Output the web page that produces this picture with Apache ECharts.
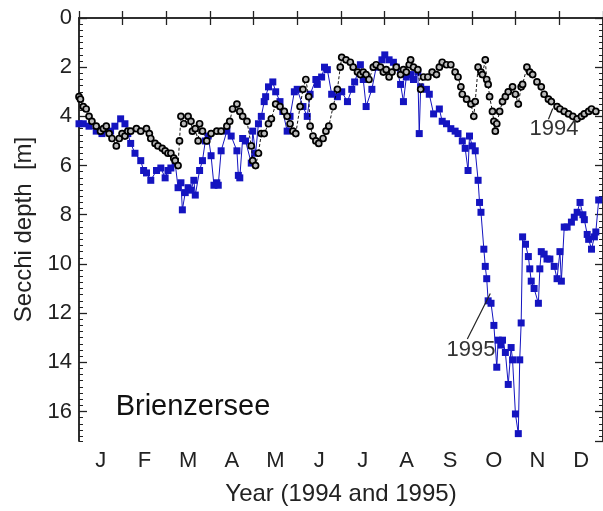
<!DOCTYPE html>
<html>
<head>
<meta charset="utf-8">
<script src="https://cdn.jsdelivr.net/npm/echarts@6/dist/echarts.min.js"></script>
<style>html,body{margin:0;padding:0;background:#fff;}#c{width:603px;height:511px;}</style>
</head>
<body>
<div id="c"></div>
<script>
// Month labels (categories of the time axis)
var months = ['J','F','M','A','M','J','J','A','S','O','N','D'];
// Y tick values (Secchi depth, m)
var depthTicks = [0,2,4,6,8,10,12,14,16];

// 1995 series: day of year
var days1995 = [0,3,7,12,16,22,25,29,32,34,36,39,43,45,47,50,54,57,60,62,64,67,69,71,72,74,76,78,80,81,84,86,88,90,92,94,96,97,99,103,106,110,111,112,114,116,120,121,123,125,127,129,130,132,135,137,140,142,145,147,150,152,156,159,161,165,166,169,171,173,176,180,183,187,190,192,196,198,200,204,207,211,213,216,219,221,224,226,228,231,233,236,237,238,242,244,247,251,253,256,259,262,264,267,269,271,272,274,276,278,279,280,282,283,284,285,287,289,291,292,294,295,297,299,301,302,304,306,307,308,309,311,313,314,315,317,320,321,322,324,326,328,331,333,335,336,338,340,343,345,347,349,351,352,354,355,357,359,360,362];
// 1995 series: Secchi depth (m)
var depth1995 = [4.3,4.3,4.4,4.6,4.7,4.6,4.4,4.1,4.3,4.7,5.1,5.5,5.8,6.2,6.3,6.6,6.2,6.1,6.5,6.2,6.1,5.9,6.9,6.7,7.8,7.1,6.9,7.0,6.6,7.2,6.2,5.8,5.0,4.8,5.6,6.8,6.7,6.8,5.4,4.6,4.8,5.4,6.4,6.5,4.9,5.0,5.9,4.6,5.5,4.3,4.0,3.4,3.2,2.8,2.6,3.0,3.4,3.8,4.6,4.0,3.0,2.9,3.6,4.0,3.1,2.5,2.7,2.4,2.0,2.1,3.1,3.2,3.0,3.4,2.9,2.6,1.9,2.5,3.6,2.9,2.0,1.7,1.5,1.7,1.8,2.0,2.7,3.4,2.4,2.3,2.5,2.2,4.7,2.8,2.9,3.1,3.9,3.7,4.2,4.3,4.5,4.6,4.7,5.0,5.3,6.2,4.8,5.2,5.4,6.6,7.5,7.9,9.4,10.1,10.6,11.5,11.6,12.5,14.2,13.1,13.3,13.1,13.6,14.9,13.4,13.9,16.1,16.9,13.9,12.4,8.9,9.2,9.7,10.2,10.7,11.0,11.6,10.2,9.5,9.6,9.8,9.8,10.1,10.6,9.5,10.7,8.5,8.5,8.3,8.1,7.9,7.5,8.0,8.2,8.8,9.0,9.4,8.9,8.7,7.4];

// 1994 series: day of year
var days1994 = [0,1,3,5,7,9,12,15,17,19,21,23,26,28,30,32,34,36,40,43,47,49,50,53,55,58,60,62,64,66,67,69,70,71,73,76,78,79,81,83,84,86,89,92,96,99,103,105,107,110,112,114,117,120,121,123,125,127,129,132,134,137,140,143,145,147,149,151,154,156,158,160,161,163,165,167,170,172,174,177,180,182,183,186,189,191,194,196,198,200,202,205,207,210,212,214,216,218,221,224,226,228,230,231,233,236,238,240,243,246,249,251,253,256,259,262,264,266,267,270,273,275,276,278,280,281,283,284,285,286,288,289,290,291,293,295,297,299,302,304,306,308,309,312,314,316,319,322,324,327,329,333,335,338,341,344,347,350,352,355,357,360];
// 1994 series: Secchi depth (m)
var depth1994 = [3.2,3.3,3.6,3.7,4.0,4.2,4.4,4.6,4.5,4.4,4.7,4.9,5.2,4.9,4.7,4.8,4.6,4.6,4.5,4.6,4.5,4.7,4.9,5.1,5.2,5.3,5.4,5.5,5.5,5.7,5.8,6.0,5.0,4.0,4.3,4.0,4.2,4.6,4.5,5.0,4.3,4.6,5.0,4.7,4.6,4.6,4.4,4.2,3.7,3.5,3.8,4.0,4.2,5.2,5.8,6.0,5.5,4.7,4.7,4.3,4.1,3.5,3.6,3.8,4.0,4.3,4.6,4.7,3.6,2.9,2.5,3.2,4.4,4.8,5.0,5.1,4.9,4.6,4.4,3.6,2.9,2.0,1.6,1.7,1.8,2.0,2.2,2.3,2.2,2.3,2.5,2.0,1.9,2.0,2.2,2.1,2.4,2.2,2.0,2.3,2.1,2.2,1.9,1.7,2.0,2.1,2.9,2.4,2.4,2.2,2.3,2.0,1.8,1.9,1.9,2.2,2.4,2.8,3.1,3.3,3.5,4.0,3.4,2.0,2.2,2.3,1.7,2.5,2.7,3.2,3.8,4.2,4.6,4.3,3.8,3.4,3.2,3.0,2.8,3.1,3.5,2.8,2.7,2.0,2.2,2.3,2.6,2.8,3.1,3.3,3.4,3.6,3.7,3.8,3.9,4.0,4.1,4.0,3.9,3.8,3.7,3.8];

function pairs(xs, ys){ var out=[]; for(var i=0;i<xs.length;i++) out.push([xs[i], ys[i]]); return out; }

var FONT = '"Liberation Sans", Arial, sans-serif';
var AX = '#222';
var chart = echarts.init(document.getElementById('c'), null, {renderer:'canvas'});

var yBase = {
  type:'value', inverse:true, min:0, max:17.2, gridIndex:0,
  splitLine:{show:false}, axisLine:{show:true, lineStyle:{color:AX, width:1.5}}
};

chart.setOption({
  animation:false,
  backgroundColor:'#fff',
  grid:{left:79, top:18, width:530, height:425, containLabel:false},
  xAxis:[
    {type:'value', min:0, max:365, show:false, gridIndex:0},
    {type:'category', data:months, position:'bottom', gridIndex:0, boundaryGap:true,
     axisLine:{show:true, lineStyle:{color:AX, width:1.5}},
     axisTick:{show:true, inside:true, length:7, lineStyle:{color:AX, width:1.3}},
     axisLabel:{color:'#222', fontSize:22, fontFamily:FONT, margin:9},
     splitLine:{show:false},
     name:'Year (1994 and 1995)', nameLocation:'middle', nameGap:41,
     nameTextStyle:{color:'#222', fontSize:24, fontFamily:FONT}},
    {type:'category', data:months, position:'top', gridIndex:0, boundaryGap:true,
     axisLine:{show:true, lineStyle:{color:AX, width:1.5}},
     axisTick:{show:true, inside:true, length:7, lineStyle:{color:AX, width:1.3}},
     axisLabel:{show:false}, splitLine:{show:false}}
  ],
  yAxis:[
    Object.assign({}, yBase, {position:'left', interval:2,
      axisTick:{show:true, inside:true, length:8, lineStyle:{color:AX, width:1.3}},
      axisLabel:{color:'#222', fontSize:22, fontFamily:FONT, margin:7, showMaxLabel:false,
        formatter:function(v){ return depthTicks.indexOf(v)>=0 ? String(v) : ''; }},
      name:'Secchi depth  [m]', nameLocation:'middle', nameGap:40, nameRotate:90,
      nameTextStyle:{color:'#222', fontSize:24, fontFamily:FONT}}),
    Object.assign({}, yBase, {position:'left', interval:0.25,
      axisTick:{show:true, inside:true, length:4, lineStyle:{color:AX, width:1}},
      axisLabel:{show:false}}),
    Object.assign({}, yBase, {position:'right', interval:2,
      axisTick:{show:true, inside:true, length:8, lineStyle:{color:AX, width:1.3}},
      axisLabel:{show:false}}),
    Object.assign({}, yBase, {position:'right', interval:0.25,
      axisTick:{show:true, inside:true, length:4, lineStyle:{color:AX, width:1}},
      axisLabel:{show:false}})
  ],
  series:[
    {name:'1995', type:'line', xAxisIndex:0, yAxisIndex:0, data:pairs(days1995, depth1995),
     symbol:'rect', symbolSize:7, showAllSymbol:true,
     lineStyle:{color:'#1414c0', width:1},
     itemStyle:{color:'#1414c0', borderColor:'#1414c0', borderWidth:0},
     markLine:{silent:true, symbol:['none','none'], label:{show:false},
       lineStyle:{color:'#222', width:1.2, type:'solid'},
       data:[[{coord:[270.5,13.05]},{coord:[286.5,11.2]}]]},
     z:2},
    {name:'1994', type:'line', xAxisIndex:0, yAxisIndex:0, data:pairs(days1994, depth1994),
     symbol:'circle', symbolSize:6, showAllSymbol:true,
     lineStyle:{color:'#000', width:0.9, type:[3,2]},
     itemStyle:{color:'#bbb', borderColor:'#000', borderWidth:1.7},
     markLine:{silent:true, symbol:['none','none'], label:{show:false},
       lineStyle:{color:'#222', width:1.2, type:'solid'},
       data:[[{coord:[330,3.68]},{coord:[327,4.12]}]]},
     z:3}
  ],
  graphic:[
    {type:'text', x:193, y:407, z:10, style:{text:'Brienzersee', fontSize:29, fontFamily:FONT, fill:'#111', align:'center', verticalAlign:'middle'}},
    {type:'text', x:554, y:129, z:10, style:{text:'1994', fontSize:22, fontFamily:FONT, fill:'#333', align:'center', verticalAlign:'middle'}},
    {type:'text', x:471, y:350, z:10, style:{text:'1995', fontSize:22, fontFamily:FONT, fill:'#333', align:'center', verticalAlign:'middle'}}
  ]
});
</script>
</body>
</html>
